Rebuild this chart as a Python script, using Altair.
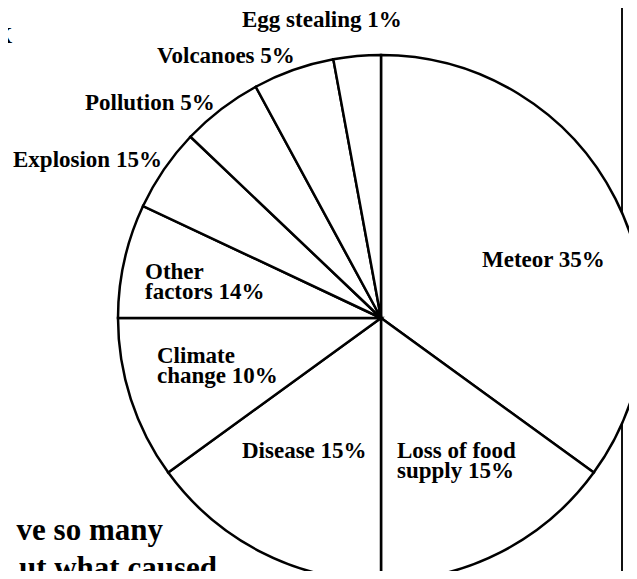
import altair as alt
import pandas as pd

# ---- data (clockwise from 12 o'clock) ----
causes = ["Meteor", "Loss of food supply", "Disease", "Climate change",
          "Other factors", "Explosion", "Pollution", "Volcanoes", "Egg stealing"]
# slice sizes as drawn (percent of circle)
shares = [35, 15, 15, 10, 7, 5.1, 5, 5, 2.9]
labels = ["Meteor 35%", "Loss of food\nsupply 15%", "Disease 15%", "Climate\nchange 10%",
          "Other\nfactors 14%", "Explosion 15%", "Pollution 5%", "Volcanoes 5%",
          "Egg stealing 1%"]

# ---- layout (label anchors: left edge, first baseline, view pixels) ----
label_x = [474, 389, 234, 149, 137, 5, 77, 149, 234]
label_y = [259, 450, 450, 355, 271, 159, 102, 55, 19]

W, H = 621, 563
CX, CY, R = 373, 310, 263

pie_df = pd.DataFrame({"cause": causes, "share": shares, "idx": list(range(len(causes)))})
lab_df = pd.DataFrame({"label": labels, "lx": label_x, "ly": label_y})

border = alt.Chart(pd.DataFrame({"bx": [614]})).mark_rule(
    color="#111", strokeWidth=2
).encode(
    x=alt.X("bx:Q", scale=None, axis=None),
    y=alt.value(0), y2=alt.value(H)
)

pie = alt.Chart(pie_df).mark_arc(
    outerRadius=R, fill="white", stroke="black", strokeWidth=2.5, clip=True
).encode(
    theta=alt.Theta("share:Q", stack=True),
    order=alt.Order("idx:Q", sort="ascending"),
    x=alt.value(CX), y=alt.value(CY)
)

text = alt.Chart(lab_df).mark_text(
    font="Liberation Serif", fontSize=23, fontWeight="bold", align="left",
    baseline="alphabetic", lineBreak="\n", lineHeight=20, color="black"
).encode(
    x=alt.X("lx:Q", scale=None, axis=None),
    y=alt.Y("ly:Q", scale=None, axis=None),
    text="label:N"
)

# fragments of the surrounding page text
top_df = pd.DataFrame({"t": ["shows how.", "k"], "tx": [109, 4], "ty": [-4, 35]})
bot_df = pd.DataFrame({"t": ["ve so many", "ut what caused"], "tx": [155, 209], "ty": [532, 570]})

top_text = alt.Chart(top_df).mark_text(
    font="Liberation Serif", fontSize=31, align="right", baseline="alphabetic",
    color="black", clip=True
).encode(
    x=alt.X("tx:Q", scale=None, axis=None),
    y=alt.Y("ty:Q", scale=None, axis=None),
    text="t:N"
)
bot_text = alt.Chart(bot_df).mark_text(
    font="Liberation Serif", fontSize=31, fontWeight="bold", align="right",
    baseline="alphabetic", color="black", clip=True
).encode(
    x=alt.X("tx:Q", scale=None, axis=None),
    y=alt.Y("ty:Q", scale=None, axis=None),
    text="t:N"
)

chart = alt.layer(border, pie, text, top_text, bot_text).properties(
    width=W, height=H, padding=0, autosize="none", background="white"
).configure_view(stroke=None)

chart.save("out.html", embed_options={"renderer": "svg", "actions": False})
